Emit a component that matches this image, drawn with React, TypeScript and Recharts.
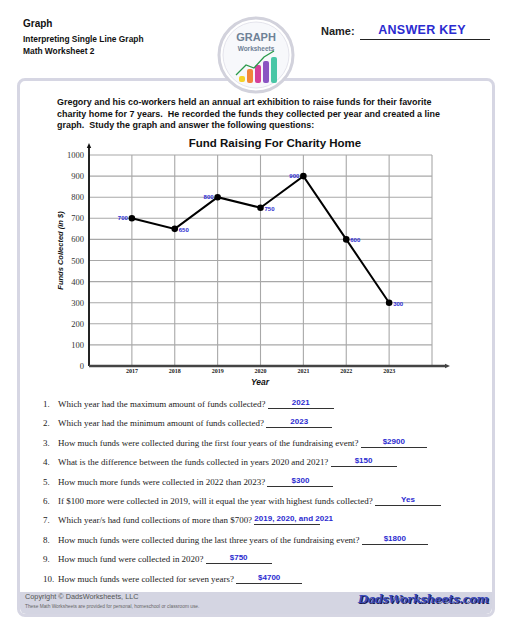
import { LineChart, Line, XAxis, YAxis, CartesianGrid, ReferenceLine, LabelList } from 'recharts';

const years = [2017, 2018, 2019, 2020, 2021, 2022, 2023];
const funds = [700, 650, 800, 750, 900, 600, 300];
const yearTicks = [2016, 2017, 2018, 2019, 2020, 2021, 2022, 2023, 2024];
const fundTicks = [0, 100, 200, 300, 400, 500, 600, 700, 800, 900, 1000];

const questions = [
    'Which year had the maximum amount of funds collected?',
    'Which year had the minimum amount of funds collected?',
    'How much funds were collected during the first four years of the fundraising event?',
    'What is the difference between the funds collected in years 2020 and 2021?',
    'How much more funds were collected in 2022 than 2023?',
    'If $100 more were collected in 2019, will it equal the year with highest funds collected?',
    'Which year/s had fund collections of more than $700?',
    'How much funds were collected during the last three years of the fundraising event?',
    'How much fund were collected in 2020?',
    'How much funds were collected for seven years?',
];
const answers = ['2021', '2023', '$2900', '$150', '$300', 'Yes', '2019, 2020, and 2021', '$1800', '$750', '$4700'];

const data = years.map((year, i) => ({ year, funds: funds[i] }));

const sans = '"Liberation Sans", Arial, sans-serif';
const serif = '"Liberation Serif", "Times New Roman", serif';
const blue = '#2b2bd0';

// arrow-headed axis line drawn by a ReferenceLine segment
const arrowLine = (color: string, width: number) => (p: any) => {
    const { x1, y1, x2, y2 } = p;
    const dx = x2 - x1;
    const dy = y2 - y1;
    const len = Math.sqrt(dx * dx + dy * dy) || 1;
    const ux = dx / len;
    const uy = dy / len;
    const s = 5;
    const bx = x2 - ux * s;
    const by = y2 - uy * s;
    const pts = `${x2},${y2} ${bx - uy * 2.2},${by + ux * 2.2} ${bx + uy * 2.2},${by - ux * 2.2}`;
    return (
        <g>
            <line x1={x1} y1={y1} x2={bx} y2={by} stroke={color} strokeWidth={width} />
            <polygon points={pts} fill={color} />
        </g>
    );
};

const valueLabel = (props: any) => {
    const { x, y, value, index } = props;
    const prev = index > 0 ? funds[index - 1] : -Infinity;
    const next = index < funds.length - 1 ? funds[index + 1] : Infinity;
    const left = value > prev && value > next;
    return (
        <text
            x={left ? x - 4 : x + 4}
            y={left ? y : y + 1}
            textAnchor={left ? 'end' : 'start'}
            dominantBaseline="central"
            fontFamily={sans}
            fontWeight="bold"
            fontSize={6}
            fill={blue}
        >
            {value}
        </text>
    );
};

const Logo = () => (
    <svg width={80} height={80} style={{ position: 'absolute', left: 216, top: 15 }}>
        <circle cx={40} cy={40} r={37} fill="#fff" stroke="#d2d2dc" strokeWidth={3} />
        <circle cx={40} cy={40} r={33} fill="#f7f8fb" stroke="#e4e4ec" strokeWidth={1} />
        <text x={40} y={26} textAnchor="middle" fontFamily={sans} fontWeight="bold" fontSize={11} fill="#6e8196">GRAPH</text>
        <text x={40} y={36} textAnchor="middle" fontFamily={sans} fontWeight="bold" fontSize={6.5} fill="#6e8196">Worksheets</text>
        <rect x={23} y={61} width={6} height={6} fill="#f5d327" rx={2} />
        <rect x={31} y={54} width={6} height={14} fill="#f2863a" rx={2} />
        <rect x={39} y={50} width={6} height={18} fill="#d43f9a" rx={2} />
        <rect x={47} y={46} width={6} height={22} fill="#8a55c2" rx={2} />
        <rect x={55} y={42} width={6} height={26} fill="#49c6a6" rx={2} />
        <polyline points="20,60 30,50 38,53 48,42 58,36" fill="none" stroke="#2a9a4a" strokeWidth={1.3} />
    </svg>
);

export default function App() {
    return (
        <div style={{ position: 'absolute', left: 0, top: 0, width: 512, height: 640, background: '#fff', fontFamily: sans, color: '#111', overflow: 'hidden' }}>
            {/* header */}
            <div style={{ position: 'absolute', left: 23, top: 18, fontSize: 10, fontWeight: 'bold' }}>Graph</div>
            <div style={{ position: 'absolute', left: 23, top: 34, fontSize: 8.4, fontWeight: 'bold', lineHeight: '11.5px' }}>
                Interpreting Single Line Graph
                <br />
                Math Worksheet 2
            </div>
            <div style={{ position: 'absolute', left: 321, top: 25, fontSize: 11, fontWeight: 'bold', color: '#222' }}>Name:</div>
            <div style={{ position: 'absolute', left: 360, top: 39, width: 130, borderTop: '1px solid #222' }} />
            <div style={{ position: 'absolute', left: 360, width: 124, top: 23, textAlign: 'center', fontSize: 12.5, fontWeight: 'bold', color: blue, letterSpacing: 0.3 }}>ANSWER KEY</div>

            {/* worksheet box */}
            <div style={{ position: 'absolute', left: 17, top: 78, width: 472, height: 533, border: '3px solid #d6d6e3', borderRadius: 8, background: '#fff' }} />
            <div style={{ position: 'absolute', left: 20, top: 592, width: 472, height: 22, background: '#d4d5e2', borderRadius: '0 0 6px 6px' }} />
            <Logo />

            <div style={{ position: 'absolute', left: 57, top: 97, width: 400, fontSize: 8.95, fontWeight: 'bold', lineHeight: '11.6px', whiteSpace: 'nowrap' }}>
                Gregory and his co-workers held an annual art exhibition to raise funds for their favorite
                <br />
                charity home for 7 years.&nbsp; He recorded the funds they collected per year and created a line
                <br />
                graph.&nbsp; Study the graph and answer the following questions:
            </div>

            {/* chart */}
            <div style={{ position: 'absolute', left: 150, width: 250, top: 137, textAlign: 'center', fontSize: 11.5, fontWeight: 'bold' }}>Fund Raising For Charity Home</div>
            <div style={{ position: 'absolute', left: 60, top: 252, width: 0, height: 0 }}>
                <div style={{ position: 'absolute', left: -60, top: -6, width: 120, textAlign: 'center', fontSize: 7.5, fontWeight: 'bold', fontStyle: 'italic', transform: 'rotate(-90deg)', whiteSpace: 'nowrap' }}>
                    Funds Collected (in $)
                </div>
            </div>
            <div style={{ position: 'absolute', left: 230, width: 60, top: 377, textAlign: 'center', fontSize: 8.5, fontWeight: 'bold', fontStyle: 'italic' }}>Year</div>
            <div style={{ position: 'absolute', left: 40, top: 130 }}>
                <LineChart width={440} height={265} data={data} margin={{ top: 25, right: 48, bottom: 14, left: 9 }}>
                    <CartesianGrid stroke="#a8a8a8" strokeWidth={1.1} />
                    <XAxis
                        dataKey="year"
                        type="number"
                        domain={[2016, 2024]}
                        ticks={yearTicks}
                        tickFormatter={(v: number) => (years.includes(v) ? String(v) : '')}
                        axisLine={false}
                        tickLine={false}
                        tickSize={0}
                        tickMargin={3}
                        height={15}
                        interval={0}
                        tick={{ fontFamily: serif, fontSize: 6, fontWeight: 'bold', fill: '#222' }}
                    />
                    <YAxis
                        type="number"
                        domain={[0, 1000]}
                        ticks={fundTicks}
                        axisLine={false}
                        tickLine={false}
                        tickSize={0}
                        tickMargin={5}
                        width={40}
                        interval={0}
                        tick={{ fontFamily: serif, fontSize: 8.5, fill: '#333' }}
                    />
                    <ReferenceLine segment={[{ x: 2016, y: 0 }, { x: 2016, y: 1057 }]} ifOverflow="visible" shape={arrowLine('#111', 1.8)} />
                    <ReferenceLine segment={[{ x: 2016, y: 0 }, { x: 2024.42, y: 0 }]} ifOverflow="visible" shape={arrowLine('#444', 2.4)} />
                    <Line
                        type="linear"
                        dataKey="funds"
                        stroke="#000"
                        strokeWidth={2}
                        dot={{ r: 3.3, fill: '#000', stroke: '#000', strokeWidth: 0 }}
                        isAnimationActive={false}
                    >
                        <LabelList dataKey="funds" content={valueLabel} />
                    </Line>
                </LineChart>
            </div>

            {/* questions */}
            {questions.map((q, i) => (
                <div
                    key={i}
                    style={{ position: 'absolute', left: 43, top: 397 + i * 19.4, fontFamily: serif, fontSize: 8.95, whiteSpace: 'nowrap', color: '#222' }}
                >
                    <span style={{ display: 'inline-block', width: 15 }}>{i + 1}.</span>
                    {q}{' '}
                    <span style={{ display: 'inline-block', position: 'relative', width: 66, height: 11, borderBottom: '1px solid #333', verticalAlign: 'bottom' }}>
                        <span style={{ position: 'absolute', left: 0, top: 1, minWidth: 66, width: 'max-content', textAlign: 'center', fontFamily: sans, fontWeight: 'bold', fontSize: 8, color: blue }}>
                            {answers[i]}
                        </span>
                    </span>
                </div>
            ))}

            {/* footer */}
            <div style={{ position: 'absolute', left: 25, top: 592, fontSize: 7.3, color: '#555' }}>Copyright © DadsWorksheets, LLC</div>
            <div style={{ position: 'absolute', left: 25, top: 604, fontSize: 4.8, color: '#666' }}>
                These Math Worksheets are provided for personal, homeschool or classroom use.
            </div>
            <div
                style={{ position: 'absolute', left: 358, top: 592, fontFamily: '"DejaVu Serif", serif', fontSize: 11.8, fontWeight: 'bold', fontStyle: 'italic', color: '#3848b8', textShadow: '1px 1px 0 #1a1a50', letterSpacing: -0.6, whiteSpace: 'nowrap' }}
            >
                DadsWorksheets.com
            </div>
        </div>
    );
}
